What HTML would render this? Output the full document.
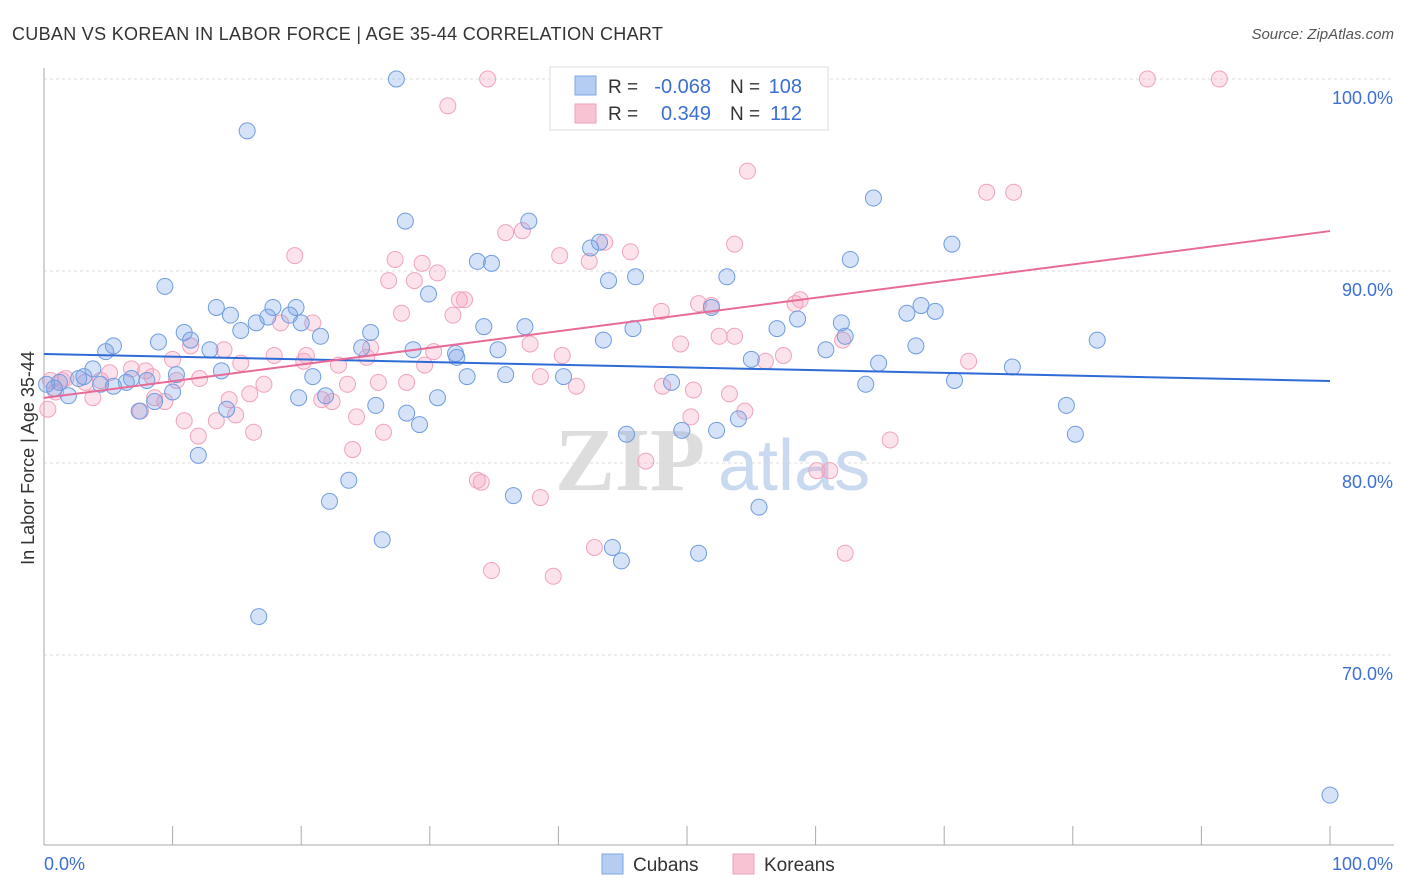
<!DOCTYPE html>
<html><head><meta charset="utf-8"><style>
body{margin:0;background:#fff;font-family:"Liberation Sans",sans-serif}
svg{display:block}
</style></head><body>
<svg id="chart" width="1406" height="892" viewBox="0 0 1406 892" xmlns="http://www.w3.org/2000/svg">
<text x="12" y="40" font-size="18" fill="#333" letter-spacing="0.3">CUBAN VS KOREAN IN LABOR FORCE | AGE 35-44 CORRELATION CHART</text>
<text x="1394" y="39" font-size="15" fill="#555" font-style="italic" text-anchor="end">Source: ZipAtlas.com</text>
<g id="grid"></g>
<g>
<text x="555" y="490" font-size="90" fill="#ddd" font-family="Liberation Serif,serif" font-weight="bold">ZIP</text>
<text x="718" y="490" font-size="72" fill="#c9d9ef">atlas</text>
</g>
<g id="axes"></g>
<g id="pts"></g>
<g id="lines"></g>
<text transform="translate(34,458) rotate(-90)" font-size="18" fill="#333" text-anchor="middle">In Labor Force | Age 35-44</text>
<g>
<rect x="550" y="67" width="278" height="63" fill="#fff" stroke="#ddd"/>
<rect x="575" y="76" width="21" height="19" fill="#b5cdf2" stroke="#7fa6e3"/>
<rect x="575" y="104" width="21" height="19" fill="#f8c4d4" stroke="#ee9fba"/>
<text x="608" y="93" font-size="19" fill="#333">R =</text>
<text x="711" y="93" font-size="20" fill="#3b6fd4" text-anchor="end">-0.068</text>
<text x="730" y="93" font-size="19" fill="#333">N =</text>
<text x="802" y="93" font-size="20" fill="#3b6fd4" text-anchor="end">108</text>
<text x="608" y="120" font-size="19" fill="#333">R =</text>
<text x="711" y="120" font-size="20" fill="#3b6fd4" text-anchor="end">0.349</text>
<text x="730" y="120" font-size="19" fill="#333">N =</text>
<text x="802" y="120" font-size="20" fill="#3b6fd4" text-anchor="end">112</text>
</g>
<g>
<rect x="602" y="854" width="21" height="20" fill="#b5cdf2" stroke="#7fa6e3"/>
<text x="633" y="871" font-size="19" fill="#333">Cubans</text>
<rect x="733" y="854" width="21" height="20" fill="#f8c4d4" stroke="#ee9fba"/>
<text x="764" y="871" font-size="19" fill="#333">Koreans</text>
</g>
</svg>
<script>
const yTicks=[100,90,80,70];
const yTickLabels=["100.0%","90.0%","80.0%","70.0%"];
const xEndLabels=["0.0%","100.0%"];
const cubanX=[27.4,15.8,64.5,28.1,37.7,43.2,42.5,70.6,33.7,34.8,62.7,46.0,43.9,53.1,9.4,29.9,13.4,17.8,19.6,14.5,17.4,19.1,68.2,69.3,67.1,51.9,58.6,20.0,34.2,37.4,62.0,10.9,15.3,16.5,21.5,25.4,45.8,57.0,62.3,11.4,8.9,5.4,4.8,12.9,24.7,35.3,28.7,43.5,60.8,67.8,81.9,32.0,32.1,55.0,64.9,13.8,10.3,3.8,2.7,6.8,8.0,3.1,1.2,0.2,0.8,1.9,4.4,6.4,5.4,35.9,32.9,40.4,70.8,75.3,20.9,48.8,63.9,8.6,10.0,7.4,14.2,25.8,28.2,30.6,29.2,79.5,80.2,54.0,45.3,49.6,52.3,12.0,23.7,22.2,36.5,55.6,26.3,44.2,44.9,50.9,16.7,100,19.8,21.9];
const cubanY=[100,97.3,93.8,92.6,92.6,91.5,91.2,91.4,90.5,90.4,90.6,89.7,89.5,89.7,89.2,88.8,88.1,88.1,88.1,87.7,87.6,87.7,88.2,87.9,87.8,88.1,87.5,87.3,87.1,87.1,87.3,86.8,86.9,87.3,86.6,86.8,87.0,87.0,86.6,86.4,86.3,86.1,85.8,85.9,86.0,85.9,85.9,86.4,85.9,86.1,86.4,85.7,85.5,85.4,85.2,84.8,84.6,84.9,84.4,84.4,84.3,84.5,84.2,84.1,83.9,83.5,84.1,84.2,84.0,84.6,84.5,84.5,84.3,85.0,84.5,84.2,84.1,83.2,83.7,82.7,82.8,83.0,82.6,83.4,82.0,83.0,81.5,82.3,81.5,81.7,81.7,80.4,79.1,78.0,78.3,77.7,76.0,75.6,74.9,75.3,72.0,62.7,83.4,83.5];
const koreanX=[34.5,55.7,85.8,91.4,31.4,54.7,73.3,75.4,37.2,35.9,43.6,45.6,19.5,27.3,40.1,42.4,29.4,30.6,26.8,28.8,32.3,32.7,50.9,51.9,48.0,58.8,58.4,31.8,27.8,18.4,20.9,53.7,53.7,49.5,52.5,62.1,37.8,20.4,25.4,30.3,40.3,57.5,56.1,71.9,11.4,14.0,10.0,6.8,17.9,15.3,20.2,22.9,25.1,29.6,5.1,7.9,8.4,4.4,3.2,1.4,1.7,0.5,10.3,12.1,17.1,23.6,26.0,28.2,38.6,41.4,48.1,50.5,53.3,0.9,3.8,8.6,9.4,14.4,16.0,21.6,22.4,24.3,14.9,13.4,7.5,10.9,12.0,16.3,26.4,50.3,54.5,65.8,24.0,46.8,60.1,61.1,33.7,34.0,38.6,42.8,62.3,34.8,39.6,0.3];
const koreanY=[100,100,100,100,98.6,95.2,94.1,94.1,92.1,92.0,91.5,91.0,90.8,90.6,90.8,90.5,90.4,89.9,89.5,89.5,88.5,88.5,88.3,88.2,87.9,88.5,88.3,87.7,87.8,87.3,87.3,91.4,86.6,86.2,86.6,86.4,86.2,85.6,86.0,85.8,85.6,85.6,85.3,85.3,86.1,85.9,85.4,84.9,85.6,85.2,85.3,85.1,85.5,85.1,84.7,84.8,84.5,84.3,84.2,84.3,84.4,84.3,84.3,84.4,84.1,84.1,84.2,84.2,84.5,84.0,84.0,83.8,83.6,83.7,83.4,83.4,83.2,83.3,83.6,83.3,83.2,82.4,82.5,82.2,82.7,82.2,81.4,81.6,81.6,82.4,82.7,81.2,80.7,80.1,79.6,79.6,79.1,79.0,78.2,75.6,75.3,74.4,74.1,82.8];
const trendCuban=[85.68,84.27];
const trendKorean=[83.39,92.08];

const NS="http://www.w3.org/2000/svg";
const X0=44,X1=1330,Y100=79,PX10=192;
const sx=v=>X0+(X1-X0)*v/100;
const sy=v=>Y100+(100-v)*PX10/10;
function mk(tag,attrs,parent){const e=document.createElementNS(NS,tag);for(const k in attrs)e.setAttribute(k,attrs[k]);parent.appendChild(e);return e;}
const grid=document.getElementById('grid'),axes=document.getElementById('axes'),pts=document.getElementById('pts'),lines=document.getElementById('lines');
yTicks.forEach((t,i)=>{
  const l=mk('line',{x1:X0,x2:1394,y1:sy(t),y2:sy(t),stroke:'#ddd','stroke-dasharray':'3,3'},grid);
  
  
  const tx=mk('text',{x:1393,y:sy(t)+25,'font-size':18,fill:'#3b6fd4','text-anchor':'end'},axes);
  tx.textContent=yTickLabels[i];
  
  
});
mk('line',{x1:X0,x2:X0,y1:68,y2:845,stroke:'#aaa'},axes);
mk('line',{x1:X0,x2:1394,y1:845,y2:845,stroke:'#aaa'},axes);
for(let i=0;i<=10;i++){const l=mk('line',{x1:sx(i*10),x2:sx(i*10),y1:826,y2:845,stroke:'#aaa'},axes);
  
  }
const xl0=mk('text',{x:44,y:870,'font-size':18,fill:'#3b6fd4'},axes);xl0.textContent=xEndLabels[0];


const xl1=mk('text',{x:1393,y:870,'font-size':18,fill:'#3b6fd4','text-anchor':'end'},axes);xl1.textContent=xEndLabels[1];


koreanX.forEach((x,i)=>{const c=mk('circle',{cx:sx(x),cy:sy(koreanY[i]),r:8,fill:'rgba(244,160,190,0.3)',stroke:'#f0a3bd','stroke-width':1},pts);
  
  });
cubanX.forEach((x,i)=>{const c=mk('circle',{cx:sx(x),cy:sy(cubanY[i]),r:8,fill:'rgba(120,160,230,0.3)',stroke:'#6f9de0','stroke-width':1},pts);
  
  });
const bl=mk('line',{x1:sx(0),x2:sx(100),y1:sy(trendCuban[0]),y2:sy(trendCuban[1]),stroke:'#2f6bd6','stroke-width':2},lines);


const pl=mk('line',{x1:sx(0),x2:sx(100),y1:sy(trendKorean[0]),y2:sy(trendKorean[1]),stroke:'#e86b97','stroke-width':2},lines);


</script>
</body></html>
